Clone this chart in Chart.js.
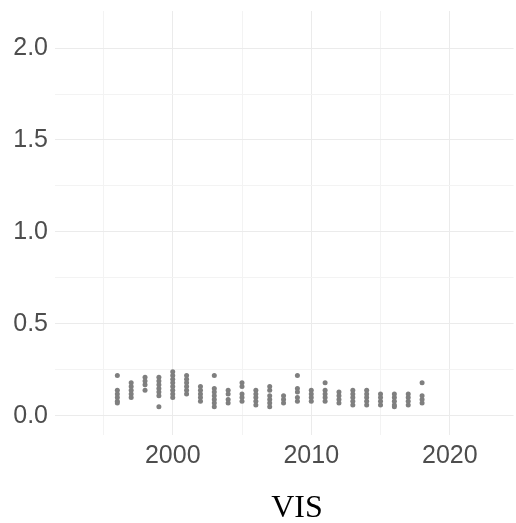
<!DOCTYPE html>
<html>
<head>
<meta charset="utf-8">
<script src="https://cdn.jsdelivr.net/npm/chart.js@4.4.1/dist/chart.umd.min.js"></script>
<style>
  html, body { margin: 0; padding: 0; background: #ffffff; }
</style>
</head>
<body>
<canvas id="visChart" width="516" height="523"></canvas>
<script>
// one column of VIS readings per year
const years = [1996, 1997, 1998, 1999, 2000, 2001, 2002, 2003, 2004, 2005, 2006, 2007,
               2008, 2009, 2010, 2011, 2012, 2013, 2014, 2015, 2016, 2017, 2018];
const visValues = [
    [0.22, 0.14, 0.12, 0.10, 0.08, 0.07],
    [0.18, 0.16, 0.14, 0.12, 0.10],
    [0.21, 0.19, 0.17, 0.14],
    [0.21, 0.19, 0.17, 0.15, 0.13, 0.11, 0.05],
    [0.24, 0.22, 0.20, 0.18, 0.16, 0.14, 0.12, 0.10],
    [0.22, 0.20, 0.18, 0.16, 0.14, 0.12],
    [0.16, 0.14, 0.12, 0.10, 0.08],
    [0.22, 0.15, 0.13, 0.11, 0.09, 0.07, 0.05],
    [0.14, 0.12, 0.09, 0.07],
    [0.18, 0.16, 0.12, 0.10, 0.08],
    [0.14, 0.12, 0.10, 0.08, 0.06],
    [0.16, 0.14, 0.11, 0.09, 0.07, 0.05],
    [0.11, 0.09, 0.07],
    [0.22, 0.15, 0.13, 0.10, 0.08],
    [0.14, 0.12, 0.10, 0.08],
    [0.18, 0.14, 0.12, 0.10, 0.08],
    [0.13, 0.11, 0.09, 0.07],
    [0.14, 0.12, 0.10, 0.08, 0.06],
    [0.14, 0.12, 0.10, 0.08, 0.06],
    [0.12, 0.10, 0.08, 0.06],
    [0.12, 0.10, 0.08, 0.06, 0.05],
    [0.12, 0.10, 0.08, 0.06],
    [0.18, 0.11, 0.09, 0.07]
];

const xTicks = [2000, 2010, 2020];
const xGrid = [1995, 2000, 2005, 2010, 2015, 2020];
const yTicks = [0, 0.5, 1, 1.5, 2];
const yGrid = [0, 0.25, 0.5, 0.75, 1, 1.25, 1.5, 1.75, 2];

const points = [];
years.forEach((yr, i) => {
    visValues[i].forEach(v => points.push({ x: yr, y: v }));
});

const tickFont = { family: '"Liberation Sans", Arial, sans-serif', size: 25 };

// ggplot-style grid: major lines a bit stronger than minor ones
function gridColor(majors) {
    return ctx => majors.includes(ctx.tick.value) ? '#ebebeb' : '#f3f3f3';
}

// fixed axis size, and no extra room reserved for the end labels
function fixSize(prop, size) {
    return scale => {
        scale[prop] = size;
        scale.paddingTop = 0;
        scale.paddingBottom = 0;
        scale.paddingLeft = 0;
        scale.paddingRight = 0;
    };
}

// axis title sits under the panel, drawn by hand
const axisTitle = {
    id: 'axisTitle',
    afterDraw(chart) {
        const ctx = chart.ctx;
        ctx.save();
        ctx.font = '32px "Liberation Serif", "Times New Roman", serif';
        ctx.fillStyle = '#000000';
        ctx.textAlign = 'center';
        ctx.textBaseline = 'alphabetic';
        ctx.fillText('VIS', 297, 517);
        ctx.restore();
    }
};

new Chart(document.getElementById('visChart'), {
    type: 'scatter',
    data: {
        datasets: [{
            data: points,
            backgroundColor: '#7f7f7f',
            borderWidth: 0,
            pointRadius: 2.5,
            pointHoverRadius: 2.5
        }]
    },
    options: {
        responsive: false,
        animation: false,
        layout: { padding: { top: 11, right: 0, left: 0, bottom: 0 } },
        plugins: {
            legend: { display: false },
            tooltip: { enabled: false }
        },
        scales: {
            x: {
                type: 'linear',
                min: 1991.5,
                max: 2024.6,
                afterBuildTicks: scale => { scale.ticks = xGrid.map(v => ({ value: v })); },
                afterFit: fixSize('height', 88),
                border: { display: false },
                grid: { color: gridColor(xTicks), lineWidth: 1, drawTicks: false },
                ticks: {
                    autoSkip: false,
                    maxRotation: 0,
                    padding: 6,
                    color: '#4d4d4d',
                    font: tickFont,
                    callback: v => xTicks.includes(v) ? String(v) : ''
                }
            },
            y: {
                type: 'linear',
                min: -0.1033,
                max: 2.2011,
                afterBuildTicks: scale => { scale.ticks = yGrid.map(v => ({ value: v })); },
                afterFit: fixSize('width', 55),
                border: { display: false },
                grid: { color: gridColor(yTicks), lineWidth: 1, drawTicks: false },
                ticks: {
                    autoSkip: false,
                    padding: 7,
                    color: '#4d4d4d',
                    font: tickFont,
                    callback: v => yTicks.includes(v) ? v.toFixed(1) : ''
                }
            }
        }
    },
    plugins: [axisTitle]
});
</script>
</body>
</html>
